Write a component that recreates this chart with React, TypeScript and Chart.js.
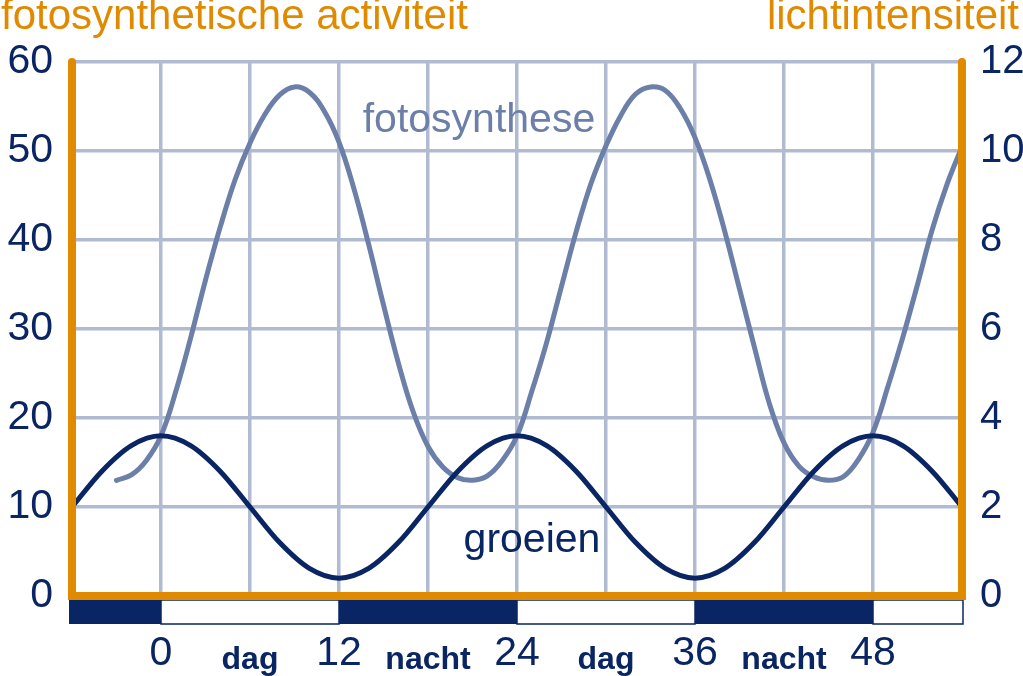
import React, { useEffect, useRef } from "react";
import { Chart, registerables } from "chart.js";

Chart.register(...registerables);

// ---- data ----
const fotoHours = [
  -3, -2, -1, 0, 1, 2, 3, 4, 5, 6, 7, 8, 9, 10, 11, 12, 13, 14, 15, 16, 17, 18, 19, 20, 21, 22, 23,
  24, 25, 26, 27, 28, 29, 30, 31, 32, 33, 34, 35, 36, 37, 38, 39, 40, 41, 42, 43, 44, 45, 46, 47,
  48, 49, 50, 51, 52, 53, 54,
];
const fotoValues = [
  13, 13.6, 15.2, 18, 23, 29, 35.5, 41.5, 46.8, 50.9, 54.1, 56.3, 57.2, 56.6, 54.5, 51, 45.8, 39.5, 32.7,
  26.2, 20.7, 16.8, 14.5, 13.3, 13, 13.5, 15.2,
  18, 23, 28.5, 34.8, 41, 46.4, 50.6, 54, 56.4, 57.2, 56.8, 54.8, 51.5, 46.8, 41, 34.5, 28, 21.7,
  17.2, 14.6, 13.4, 13, 13.4, 15.3,
  18.4, 23.5, 29, 35, 41.2, 46.3, 50.5,
];
const groeiHours = [
  -6, -4, -2, 0, 2, 4, 6, 8, 10, 12, 14, 16, 18, 20, 22, 24, 26, 28, 30, 32, 34, 36, 38, 40, 42, 44,
  46, 48, 50, 52, 54,
];
const groeiValues = [
  10, 14, 16.9, 18, 16.9, 14, 10, 6, 3.1, 2, 3.1, 6, 10, 14, 16.9, 18, 16.9, 14, 10, 6, 3.1, 2, 3.1,
  6, 10, 14, 16.9, 18, 16.9, 14, 10,
];
const hourTicks = [0, 12, 24, 36, 48];
const periodHours = [6, 18, 30, 42];
const periodLabels = ["dag", "nacht", "dag", "nacht"];
const nightStart = [-6, 12, 36];
const nightEnd = [0, 24, 48];
const dayStart = [0, 24, 48];
const dayEnd = [12, 36, 54];
const leftTitle = "fotosynthetische activiteit";
const rightTitle = "lichtintensiteit";
const fotoLabel = { text: "fotosynthese", x: 13.6, y: 52.1 };
const groeiLabel = { text: "groeien", x: 20.4, y: 5.0 };

// ---- styles ----
const ORANGE = "#e08a00";
const NAVY = "#0a2563";
const FOTO = "#6b7fa8";
const GRID = "#b0bbd1";
const FONT = "'Liberation Sans', Arial, sans-serif";

const decorPlugin = {
  id: "decor",
  afterDatasetsDraw(chart: any) {
    const { ctx, chartArea: a, scales } = chart;
    const xs = scales.x;
    const ys = scales.y;
    ctx.save();
    // day / night bar
    const barTop = a.bottom + 4;
    const barH = 24;
    const clampL = (v: number) => (v <= xs.min ? a.left - 3 : xs.getPixelForValue(v));
    const clampR = (v: number) => (v >= xs.max ? a.right + 1 : xs.getPixelForValue(v));
    dayStart.forEach((s, i) => {
      const x0 = clampL(s);
      const x1 = clampR(dayEnd[i]);
      ctx.fillStyle = "#ffffff";
      ctx.fillRect(x0, barTop, x1 - x0, barH);
      ctx.strokeStyle = NAVY;
      ctx.lineWidth = 1.5;
      ctx.strokeRect(x0, barTop, x1 - x0, barH);
    });
    nightStart.forEach((s, i) => {
      const x0 = clampL(s);
      const x1 = clampR(nightEnd[i]);
      ctx.fillStyle = NAVY;
      ctx.fillRect(x0, barTop, x1 - x0, barH);
    });
    // orange frame
    ctx.strokeStyle = ORANGE;
    ctx.lineWidth = 8;
    ctx.lineCap = "round";
    ctx.lineJoin = "miter";
    ctx.beginPath();
    ctx.moveTo(a.left, a.top);
    ctx.lineTo(a.left, a.bottom);
    ctx.lineTo(a.right, a.bottom);
    ctx.lineTo(a.right, a.top);
    ctx.stroke();
    // curve labels
    ctx.font = `41px ${FONT}`;
    ctx.textBaseline = "alphabetic";
    ctx.textAlign = "left";
    ctx.fillStyle = FOTO;
    ctx.fillText(fotoLabel.text, xs.getPixelForValue(fotoLabel.x), ys.getPixelForValue(fotoLabel.y));
    ctx.fillStyle = NAVY;
    ctx.fillText(groeiLabel.text, xs.getPixelForValue(groeiLabel.x), ys.getPixelForValue(groeiLabel.y));
    // axis titles
    ctx.font = `42px ${FONT}`;
    ctx.fillStyle = ORANGE;
    ctx.textAlign = "left";
    ctx.fillText(leftTitle, 1, 29);
    ctx.textAlign = "right";
    ctx.fillText(rightTitle, 1019, 29);
    ctx.restore();
  },
};

export default function App() {
  const ref = useRef<HTMLCanvasElement | null>(null);
  useEffect(() => {
    if (!ref.current) return;
    const chart = new Chart(ref.current, {
      type: "line",
      data: {
        datasets: [
          {
            label: "groeien",
            data: groeiHours.map((h, i) => ({ x: h, y: groeiValues[i] })),
            borderColor: NAVY,
            borderWidth: 5,
            pointRadius: 0,
            cubicInterpolationMode: "monotone",
            yAxisID: "y",
          },
          {
            label: "fotosynthese",
            data: fotoHours.map((h, i) => ({ x: h, y: fotoValues[i] })),
            borderColor: FOTO,
            borderWidth: 5,
            pointRadius: 0,
            borderCapStyle: "round",
            tension: 0.4,
            yAxisID: "y",
          },
        ],
      },
      options: {
        responsive: false,
        animation: false,
        events: [],
        layout: { padding: { top: 62, left: 0, right: 0, bottom: 0 } },
        plugins: { legend: { display: false }, tooltip: { enabled: false } },
        scales: {
          x: {
            type: "linear",
            min: -6,
            max: 54,
            afterFit: (s: any) => {
              s.height = 80;
            },
            border: { display: false },
            grid: { color: GRID, lineWidth: 3.5, drawTicks: false },
            ticks: {
              stepSize: 6,
              autoSkip: false,
              maxRotation: 0,
              padding: 34,
              color: NAVY,
              font: (ctx: any) => {
                const v = ctx.tick ? ctx.tick.value : 0;
                return periodHours.includes(v)
                  ? { family: FONT, size: 32, weight: "bold", lineHeight: "60px" }
                  : { family: FONT, size: 41, lineHeight: "48px" };
              },
              callback: (v: any) => {
                const n = Number(v);
                if (hourTicks.includes(n)) return String(n);
                const k = periodHours.indexOf(n);
                return k >= 0 ? periodLabels[k] : "";
              },
            },
          },
          y: {
            position: "left",
            min: 0,
            max: 60,
            afterFit: (s: any) => {
              s.width = 72;
            },
            border: { display: false },
            grid: { color: GRID, lineWidth: 3.5, drawTicks: false },
            ticks: {
              stepSize: 10,
              padding: 19,
              color: NAVY,
              font: { family: FONT, size: 41 },
            },
          },
          y2: {
            position: "right",
            min: 0,
            max: 12,
            afterFit: (s: any) => {
              s.width = 61;
            },
            border: { display: false },
            grid: { display: false, drawTicks: false },
            ticks: {
              stepSize: 2,
              padding: 18,
              color: NAVY,
              font: { family: FONT, size: 40 },
            },
          },
        },
      },
      plugins: [decorPlugin],
    } as any);
    return () => chart.destroy();
  }, []);
  return (
    <div style={{ position: "absolute", left: 0, top: 0, width: 1023, height: 676, background: "#fff" }}>
      <canvas ref={ref} width={1023} height={676} style={{ width: 1023, height: 676, display: "block" }} />
    </div>
  );
}
